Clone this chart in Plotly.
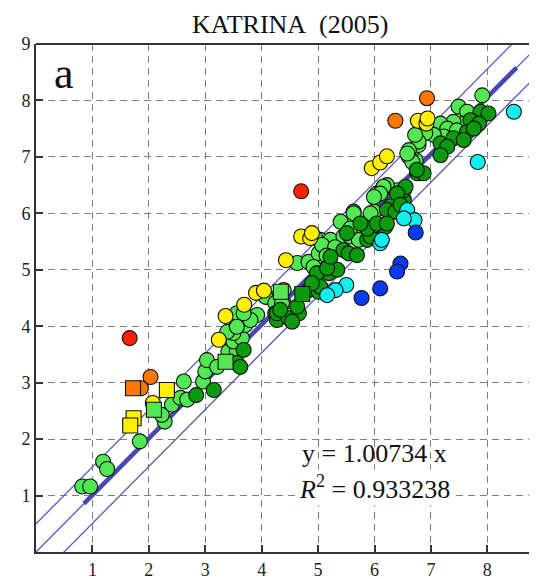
import plotly.graph_objects as go

# ---------------- data ----------------
light_green_x = [0.82,0.96,1.19,1.26,1.84,2.28,2.23,2.41,2.56,2.62,2.68,2.96,3.00,3.03,3.21,3.41,3.56,3.50,3.65,3.50,
                 3.39,3.56,3.71,3.74,3.92,3.56,4.10,4.39,4.39,4.07,4.24,4.36,4.63,4.83,5.01,5.04,5.22,5.45,5.57,5.72,
                 5.63,5.99,5.78,6.04,6.13,6.40,6.22,6.73,6.64,6.78,4.92,3.80,3.68,3.56,5.40,5.57,4.95,5.07,7.91,7.49,
                 7.64,7.58,7.40,7.17,7.29,7.46,7.23,7.05,6.90,6.78,6.61,6.61,6.67,6.16,6.10,5.99,5.93,5.63,6.58,6.72,
                 5.30,5.15]
light_green_y = [1.16,1.16,1.60,1.47,1.96,2.31,2.43,2.61,2.73,3.02,2.70,3.02,3.20,3.40,3.28,3.55,3.55,3.73,3.79,3.88,
                 3.90,4.05,4.02,4.17,4.20,4.23,4.52,4.41,4.64,4.52,4.41,4.41,5.12,5.14,5.29,5.53,5.53,5.59,5.59,5.53,
                 6.03,6.03,5.82,6.35,6.41,6.41,6.50,6.94,7.06,7.21,5.05,4.11,4.23,3.99,5.85,5.73,5.56,5.44,8.09,7.89,
                 7.80,7.59,7.62,7.59,7.50,7.47,7.36,7.39,7.42,7.27,7.12,7.00,6.91,6.47,6.35,6.29,6.00,6.00,7.06,7.39,
                 5.40,5.25]

dark_green_x = [2.84,3.15,3.56,3.62,3.68,4.24,4.27,4.27,4.48,4.66,4.54,4.83,5.01,5.04,5.22,5.19,5.34,4.98,4.89,5.45,
                5.54,5.69,5.87,5.93,6.02,6.19,5.87,6.28,6.22,6.37,6.52,6.52,6.81,5.16,4.33,4.63,5.22,7.88,8.02,7.70,
                7.85,7.64,7.76,7.40,7.58,7.17,7.29,7.17,6.76,6.87,6.55,6.40,6.46,6.04,6.22,5.75,5.51,6.75]
dark_green_y = [2.78,2.87,3.35,3.28,3.58,4.23,4.11,4.23,4.14,4.23,4.08,4.64,4.61,4.70,5.08,4.94,5.00,4.94,4.76,5.35,
                5.29,5.26,5.53,5.59,5.79,5.76,5.73,6.12,6.06,6.03,6.24,6.41,6.71,5.03,4.29,4.35,5.23,7.80,7.77,7.65,
                7.59,7.44,7.50,7.33,7.30,7.24,7.18,7.03,6.71,6.71,6.47,6.35,6.15,5.82,5.82,5.82,5.65,6.77]

yellow_x = [2.07,3.24,3.36,3.69,3.90,4.04,4.43,4.70,4.86,4.89,5.95,6.10,6.22,6.77,6.92,6.94]
yellow_y = [2.64,3.76,4.18,4.38,4.59,4.63,5.17,5.59,5.56,5.65,6.80,6.90,7.01,7.64,7.59,7.68]

orange_x = [2.03,1.86,6.37,6.93]
orange_y = [3.10,2.90,7.64,8.04]

red_x = [1.66,4.70]
red_y = [3.79,6.39]

cyan_x = [8.47,7.83,6.58,6.71,6.52,6.10,6.13,5.50,5.31,5.16]
cyan_y = [7.80,6.91,6.06,5.88,5.91,5.47,5.53,4.73,4.64,4.55]

blue_x = [6.73,6.46,6.40,6.10,5.77]
blue_y = [5.66,5.11,4.97,4.67,4.50]

sq_light_green_x = [2.09,3.36,4.34]
sq_light_green_y = [2.52,3.37,4.61]
sq_dark_green_x = [4.72]
sq_dark_green_y = [4.57]
sq_yellow_x = [2.32,1.73,1.67]
sq_yellow_y = [2.87,2.37,2.24]
sq_orange_x = [1.72]
sq_orange_y = [2.90]

slope = 1.00734
r2 = 0.933238
band = 0.5
fit_x_range = [0.85, 8.52]
x_ticks = [1, 2, 3, 4, 5, 6, 7, 8]
y_ticks = [1, 2, 3, 4, 5, 6, 7, 8, 9]
X_MAX = 8.88

fig = go.Figure()

# regression and band lines
line_x = [0, X_MAX]
thin = dict(color="#5a5ab8", width=1.3)
for off in (band, 0.0, -band):
    fig.add_trace(go.Scatter(x=line_x, y=[slope * v + off for v in line_x], mode="lines",
                             line=thin, hoverinfo="skip", showlegend=False))
fig.add_trace(go.Scatter(x=fit_x_range, y=[slope * v for v in fit_x_range], mode="lines",
                         line=dict(color="#4848b4", width=4.5), hoverinfo="skip", showlegend=False))

def pts(xs, ys, color, symbol="circle"):
    fig.add_trace(go.Scatter(x=xs, y=ys, mode="markers", showlegend=False,
                             marker=dict(symbol=symbol, size=15, color=color,
                                         line=dict(color="#111111", width=1.1))))

pts(light_green_x, light_green_y, "#52e852")
pts(dark_green_x, dark_green_y, "#0b9a0b")
pts(yellow_x, yellow_y, "#ffee00")
pts(orange_x, orange_y, "#ff7700")
pts(red_x, red_y, "#ff2200")
pts(cyan_x, cyan_y, "#11eeee")
pts(blue_x, blue_y, "#0a3af0")
pts(sq_light_green_x, sq_light_green_y, "#52e852", "square")
pts(sq_dark_green_x, sq_dark_green_y, "#0b9a0b", "square")
pts(sq_yellow_x, sq_yellow_y, "#ffee00", "square")
pts(sq_orange_x, sq_orange_y, "#ff7700", "square")

serif = "Liberation Serif, Times New Roman, serif"
axis_common = dict(showgrid=True, gridcolor="#808080", gridwidth=1.2, griddash="7px,5px",
                   zeroline=False, showline=True, linecolor="#333333", linewidth=2,
                   ticks="inside", ticklen=7, tickwidth=1.5, tickcolor="#333333",
                   automargin=False,
                   tickfont=dict(family=serif, size=18, color="#222222"))

fig.update_xaxes(range=[0, X_MAX], tickvals=x_ticks, **axis_common)
fig.update_yaxes(range=[0, 9], tickvals=y_ticks, **axis_common)

# top frame line
fig.add_shape(type="line", xref="paper", yref="paper", x0=0, x1=1, y0=1, y1=1,
              line=dict(color="#333333", width=2))

fig.add_annotation(x=4.5, y=1, xref="x", yref="paper", yshift=4, yanchor="bottom",
                   borderpad=0, text="KATRINA\u00a0\u00a0(2005)", showarrow=False,
                   font=dict(family=serif, size=26, color="#111111"))
fig.add_annotation(x=0.5, y=8.48, xref="x", yref="y", text="a", showarrow=False,
                   font=dict(family=serif, size=44, color="#111111"))
fig.add_annotation(x=6.0, y=1.74, xref="x", yref="y",
                   text="y = %.5f x" % slope, showarrow=False,
                   font=dict(family=serif, size=26, color="#111111"))
fig.add_annotation(x=6.0, y=1.15, xref="x", yref="y",
                   text="<i>R</i><sup>2</sup> = %.6f" % r2, showarrow=False, bgcolor="white",
                   font=dict(family=serif, size=26, color="#111111"))

# page body adds an 8px margin, so the figure is sized/offset to compensate
fig.update_layout(width=529, height=571, margin=dict(l=28, r=0, t=36, b=27),
                  plot_bgcolor="white", paper_bgcolor="white")

fig.write_html("out.html")
